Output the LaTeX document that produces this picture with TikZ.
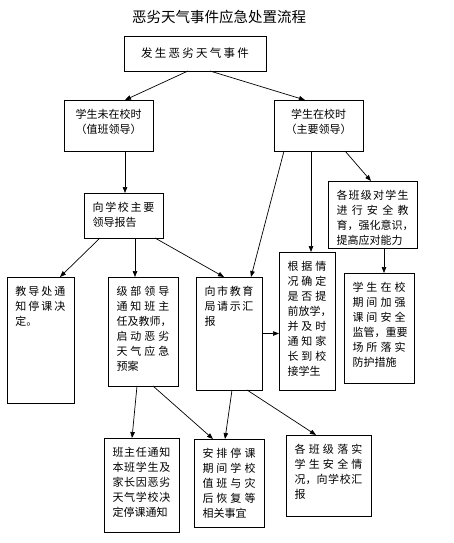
\documentclass[tikz,border=0pt]{standalone}
\usepackage{fontspec}
\setmainfont{Noto Sans CJK SC}
\usetikzlibrary{arrows.meta}
\newcommand{\sline}[2][\linewidth]{\makebox[#1][s]{\spaceskip=0pt plus 1fil #2}}

\begin{document}
\begin{tikzpicture}[
  x=1pt, y=-1pt,
  box/.style={draw, line width=0.8pt, anchor=north west, outer sep=0pt, inner xsep=8.5pt, inner ysep=9pt, text height=9pt, align=left, font=\fontsize{11}{15}\selectfont},
  deep/.style={text depth=#1pt},
  arrow/.style={-{Triangle[length=6pt, width=4.5pt]}, line width=0.7pt}
]
  \useasboundingbox (0,0) rectangle (454,543);

  \node[font=\fontsize{14.5}{16}\selectfont] (title) at (219,17) {恶劣天气事件应急处置流程};
  \node[draw, line width=0.8pt, outer sep=0pt, minimum width=142pt, minimum height=35pt, font=\fontsize{11.5}{14}\selectfont] (event) at (195,53.5) {\sline[108pt]{发 生 恶 劣 天 气 事 件}};

  \node[box, align=center, text width=72pt, deep=24] (offcampus) at (64,100) {学生未在校时\\（值班领导）};
  \node[box, align=center, text width=72pt, deep=24] (oncampus) at (274,100) {学生在校时\\（主要领导）};

  \node[box, text width=62pt, deep=18] (report) at (84,193) {\sline{向 学 校 主 要}\\领导报告};
  \node[box, text width=72pt, deep=40] (educate) at (328,181) {\sline{各 班 级 对 学 生}\\\sline{进 行 安 全 教}\\育，强化意识，\\提高应对能力};

  \node[box, text width=50pt, deep=99] (notice) at (7,277) {\sline{教 导 处 通}\\\sline{知 停 课 决}\\定。};
  \node[box, text width=53pt, deep=82] (grade) at (108,277) {\sline{级 部 领 导}\\\sline{通 知 班 主}\\任及教师，\\\sline{启 动 恶 劣}\\\sline{天 气 应 急}\\预案};
  \node[box, text width=49pt, deep=86] (city) at (196,277) {\sline{向 市 教 育}\\\sline{局 请 示 汇}\\报};
  \node[box, text width=39pt, deep=111] (dismiss) at (279,252) {\sline{根 据 情}\\\sline{况 确 定}\\\sline{是 否 提}\\前放学，\\\sline{并 及 时}\\\sline{通 知 家}\\\sline{长 到 校}\\接学生};
  \node[box, text width=53pt, deep=83] (guard) at (344,273) {\sline{学 生 在 校}\\\sline{期 间 加 强}\\\sline{课 间 安 全}\\监管，重要\\\sline{场 所 落 实}\\防护措施};

  \node[box, text width=58pt, deep=67] (teacher) at (104,438) {\sline{班 主 任 通 知}\\\sline{本 班 学 生 及}\\\sline{家 长 因 恶 劣}\\\sline{天 气 学 校 决}\\定停课通知};
  \node[box, text width=53pt, deep=61] (duty) at (194,439) {\sline{安 排 停 课}\\\sline{期 间 学 校}\\\sline{值 班 与 灾}\\\sline{后 恢 复 等}\\相关事宜};
  \node[box, text width=68pt, deep=54] (check) at (286,435) {\sline{各 班 级 落 实}\\\sline{学 生 安 全 情}\\\sline{况，向 学 校 汇}\\报};

  \draw[arrow] ([xshift=-7pt]event.south) -- ([xshift=16.5pt]offcampus.north);
  \draw[arrow] ([xshift=15pt]event.south) -- ([xshift=-13.5pt]oncampus.north);
  \draw[arrow] ([xshift=1.5pt]report.north |- offcampus.south) -- ([xshift=1.5pt]report.north);
  \draw[arrow] ([xshift=26.5pt]oncampus.south) -- ([xshift=-1.5pt]educate.north);
  \draw[arrow] ([xshift=-34.5pt]oncampus.south) -- ([xshift=22pt]city.north);
  \draw[arrow] ([xshift=4pt]dismiss.north |- oncampus.south) -- ([xshift=4pt]dismiss.north);
  \draw[arrow] ([xshift=5pt]guard.north |- educate.south) -- ([xshift=5pt]guard.north);
  \draw[arrow] ([xshift=-23.5pt]report.south) -- ([xshift=19.5pt]notice.north);
  \draw[arrow] ([xshift=-8pt]grade.north |- report.south) -- ([xshift=-8pt]grade.north);
  \draw[arrow] ([xshift=31.5pt]report.south) -- ([xshift=-5pt]city.north);
  \draw[arrow] (city.east) -- (city.east -| dismiss.west);
  \draw[arrow] ([xshift=-6pt]grade.south) -- ([xshift=-9.5pt]teacher.north);
  \draw[arrow] ([xshift=10pt]grade.south) -- ([xshift=-16pt]duty.north);
  \draw[arrow] ([xshift=3pt]city.south) -- ([xshift=-4pt]duty.north);
  \draw[arrow] ([xshift=18pt]city.south) -- ([xshift=-12.5pt]check.north);
\end{tikzpicture}
\end{document}
